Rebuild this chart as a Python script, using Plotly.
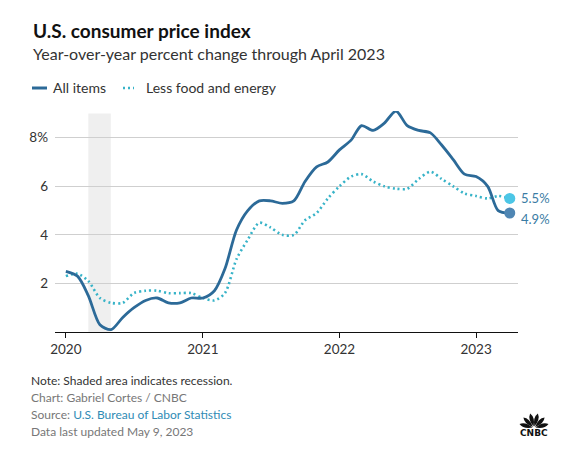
import math
import pandas as pd
import plotly.graph_objects as go

# ---------------- data ----------------
months = pd.date_range("2020-01-01", "2023-04-01", freq="MS")
all_items = [
    2.5, 2.3, 1.5, 0.3, 0.1, 0.6, 1.0, 1.3, 1.4, 1.2, 1.2, 1.4,
    1.4, 1.7, 2.6, 4.2, 5.0, 5.4, 5.4, 5.3, 5.4, 6.2, 6.8, 7.0,
    7.5, 7.9, 8.5, 8.3, 8.6, 9.1, 8.5, 8.3, 8.2, 7.7, 7.1, 6.5,
    6.4, 6.0, 5.0, 4.9,
]
core = [
    2.3, 2.4, 2.1, 1.4, 1.2, 1.2, 1.6, 1.7, 1.7, 1.6, 1.6, 1.6,
    1.4, 1.3, 1.6, 3.0, 3.8, 4.5, 4.3, 4.0, 4.0, 4.6, 4.9, 5.5,
    6.0, 6.4, 6.5, 6.2, 6.0, 5.9, 5.9, 6.3, 6.6, 6.3, 6.0, 5.7,
    5.6, 5.5, 5.6, 5.5,
]
recession = ["2020-03-01", "2020-04-30"]
year_ticks = ["2020-01-01", "2021-01-01", "2022-01-01", "2023-01-01"]
year_labels = ["2020", "2021", "2022", "2023"]
y_ticks = [2, 4, 6, 8]
y_labels = ["2", "4", "6", "8%"]

# ---------------- style ----------------
FONT = "Lato"
C_ALL = "#2c6a98"
C_CORE = "#37b3c8"
O = 8  # page body margin offset
W, H = 561 - O, 449 - O
ML, MR, MT, MB = 55 - O, 51 - O, 111 - O, 125 - O
PW, PH = W - ML - MR, H - MT - MB


def px(x):
    return (x - O - ML) / PW


def py(y):
    return (H - MB - (y - O)) / PH


fig = go.Figure()
fig.add_trace(go.Scatter(
    x=months, y=core, mode="lines", name="Less food and energy",
    line=dict(color=C_CORE, width=2.6, dash="2px,3px", shape="spline", smoothing=0.8),
    hoverinfo="skip",
))
fig.add_trace(go.Scatter(
    x=months, y=all_items, mode="lines", name="All items",
    line=dict(color=C_ALL, width=2.8, shape="spline", smoothing=0.8),
    hoverinfo="skip",
))
# end markers
fig.add_trace(go.Scatter(
    x=[months[-1]], y=[core[-1]], mode="markers",
    marker=dict(color="#4cc6e6", size=11), hoverinfo="skip",
))
fig.add_trace(go.Scatter(
    x=[months[-1]], y=[all_items[-1]], mode="markers",
    marker=dict(color="#4f86b3", size=11), hoverinfo="skip",
))

fig.add_annotation(x=months[-1], y=core[-1], text=f"{core[-1]}%", showarrow=False,
                   xanchor="left", xshift=9, yshift=0,
                   font=dict(family=FONT, size=13, color="#3b7ca4"))
fig.add_annotation(x=months[-1], y=all_items[-1], text=f"{all_items[-1]}%", showarrow=False,
                   xanchor="left", xshift=9, yshift=-6,
                   font=dict(family=FONT, size=13, color="#3b7ca4"))

# recession shading
fig.add_shape(type="rect", xref="x", yref="y", x0=recession[0], x1=recession[1],
              y0=0, y1=9.0, fillcolor="#efefef", line=dict(width=0), layer="below")

# title / subtitle
fig.add_annotation(xref="paper", yref="paper", x=px(31), y=py(30), xanchor="left", yanchor="middle",
                   text="<b>U.S. consumer price index</b>", showarrow=False,
                   font=dict(family=FONT, size=19, color="#111"))
fig.add_annotation(xref="paper", yref="paper", x=px(31), y=py(53), xanchor="left", yanchor="middle",
                   text="Year-over-year percent change through April 2023", showarrow=False,
                   font=dict(family=FONT, size=16, color="#333"))

# legend (manual)
fig.add_shape(type="line", xref="paper", yref="paper", x0=px(32), x1=px(47), y0=py(88), y1=py(88),
              line=dict(color=C_ALL, width=3))
fig.add_shape(type="line", xref="paper", yref="paper", x0=px(123), x1=px(134), y0=py(88), y1=py(88),
              line=dict(color=C_CORE, width=2.5, dash="2px,3px"))
fig.add_annotation(xref="paper", yref="paper", x=px(51), y=py(88), xanchor="left", yanchor="middle",
                   text="All items", showarrow=False, font=dict(family=FONT, size=14, color="#333"))
fig.add_annotation(xref="paper", yref="paper", x=px(144), y=py(88), xanchor="left", yanchor="middle",
                   text="Less food and energy", showarrow=False, font=dict(family=FONT, size=14, color="#333"))

# footer
footer = [
    ("Note: Shaded area indicates recession.", 380, "#333"),
    ("Chart: Gabriel Cortes / CNBC", 397, "#777"),
    ("Source: <span style='color:#2f8bb5'>U.S. Bureau of Labor Statistics</span>", 414, "#777"),
    ("Data last updated May 9, 2023", 431, "#777"),
]
for txt, yy, col in footer:
    fig.add_annotation(xref="paper", yref="paper", x=px(29), y=py(yy), xanchor="left", yanchor="middle",
                       text=txt, showarrow=False, font=dict(family=FONT, size=12, color=col))

# CNBC peacock logo (approximation)
cx, cy = 534, 428
for i in range(6):
    ang = math.radians(165 - i * 30)
    dx, dy = math.cos(ang), -math.sin(ang)
    bx, by = cx + 1.5 * dx, cy + 1.5 * dy
    tx, ty = cx + 15 * dx, cy + 15 * dy
    mx, my = cx + 10 * dx, cy + 10 * dy
    perp = (-dy, dx)
    w = 4.0
    p1 = (mx + perp[0] * w, my + perp[1] * w)
    p2 = (mx - perp[0] * w, my - perp[1] * w)
    path = (f"M {px(bx)},{py(by)} Q {px(p1[0])},{py(p1[1])} {px(tx)},{py(ty)} "
            f"Q {px(p2[0])},{py(p2[1])} {px(bx)},{py(by)} Z")
    fig.add_shape(type="path", xref="paper", yref="paper", path=path,
                  fillcolor="#111", line=dict(width=0))
fig.add_annotation(xref="paper", yref="paper", x=px(534), y=py(433), xanchor="center", yanchor="middle",
                   text="<b>CNBC</b>", showarrow=False, font=dict(family="DejaVu Sans", size=9, color="#111"))

fig.update_layout(
    width=W, height=H,
    margin=dict(l=ML, r=MR, t=MT, b=MB, pad=0),
    paper_bgcolor="white", plot_bgcolor="white",
    showlegend=False,
    font=dict(family=FONT, size=13, color="#333"),
)
fig.update_xaxes(
    range=["2019-12-03", "2023-04-23"],
    tickvals=year_ticks, ticktext=year_labels,
    showgrid=False, showline=True, linecolor="#111", linewidth=1,
    ticks="outside", ticklen=5, tickcolor="#111", tickwidth=1,
    tickfont=dict(family=FONT, size=13.5, color="#333"),
    zeroline=False,
)
fig.update_yaxes(
    range=[0, 9.1],
    tickvals=y_ticks, ticktext=y_labels,
    showgrid=True, gridcolor="#cfcfcf", gridwidth=1,
    showline=False, zeroline=False, ticks="",
    ticklabelstandoff=6,
    tickfont=dict(family=FONT, size=13.5, color="#333"),
)

fig.write_html("out.html")
